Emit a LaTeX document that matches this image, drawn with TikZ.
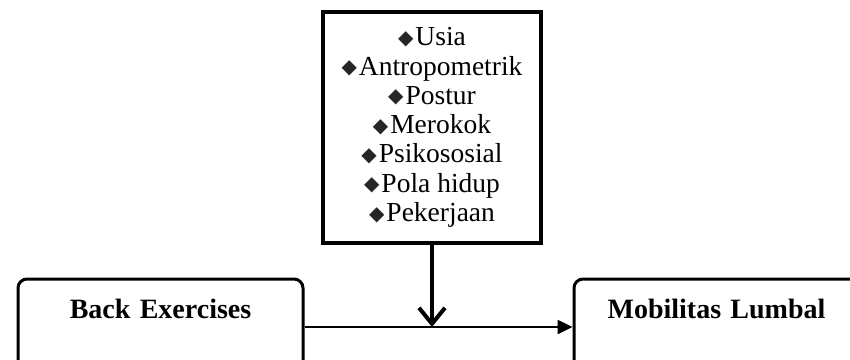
\documentclass[tikz,border=0pt]{standalone}
\usepackage{fontspec}
\setmainfont{Liberation Serif}
\newfontfamily\symfont{DejaVu Sans}
\usetikzlibrary{positioning, arrows.meta}

% diamond bullet
\newcommand{\bul}[1]{\raisebox{1.5pt}{\symfont\fontsize{20}{20}\selectfont\color{black!85}◆}\hspace{2pt}#1}

\begin{document}
\begin{tikzpicture}[x=1pt, y=-1pt,
	factbox/.style={draw, line width=4pt, minimum width=218pt, minimum height=231pt, align=center, inner sep=0pt, font=\fontsize{27.5}{29.3}\selectfont},
	varbox/.style={draw, rounded corners=9pt, line width=3pt, minimum width=285pt, text width=285pt, align=center, inner xsep=0pt, inner ysep=19pt, text height=20pt, text depth=38pt, font=\bfseries\fontsize{28}{32}\selectfont},
	]
	\useasboundingbox (0,0) rectangle (850,359);
	
	\node[factbox] (Faktor) at (432,127.5) {\bul{Usia}\\ \bul{Antropometrik}\\ \bul{Postur}\\ \bul{Merokok}\\ \bul{Psikososial}\\ \bul{Pola hidup}\\ \bul{Pekerjaan}};
	\node[varbox] (Bebas) at (160.5,327) {Back Exercises};
	\node[varbox] (Terikat) at (716.5,327) {Mobilitas Lumbal};
	\coordinate (Temu) at (Faktor.south |- Bebas.east);
	
	\draw[line width=2.5pt, -{Triangle[length=15pt, width=14pt]}] (Bebas.east) -- (Terikat.west);
	\draw[line width=4pt, -{Straight Barb[length=16pt, width=26pt]}] (Faktor.south) -- (Temu);
\end{tikzpicture}
\end{document}
